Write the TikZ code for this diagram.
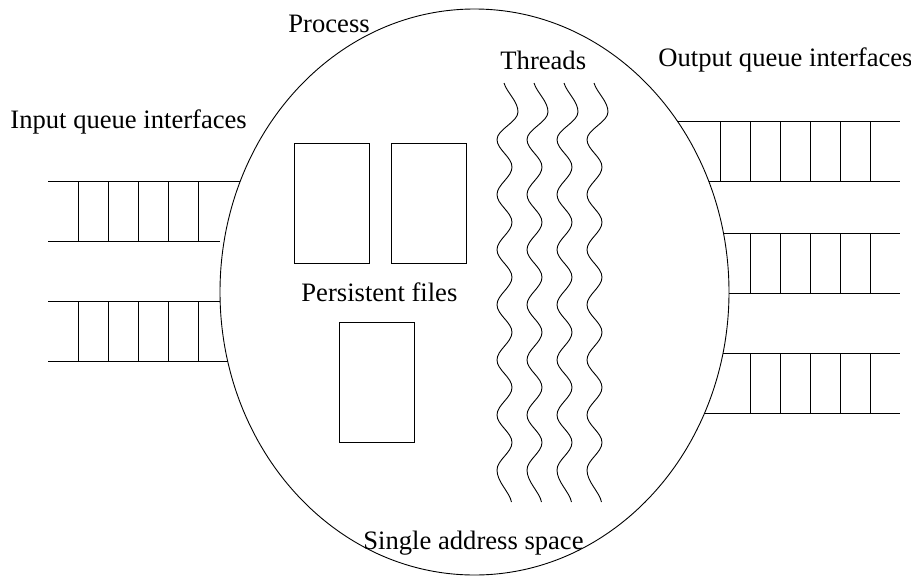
\documentclass[tikz,border=0pt]{standalone}
\usepackage{fontspec}
\setmainfont{Liberation Serif}
\usetikzlibrary{shapes.geometric}
\begin{document}
\begin{tikzpicture}[x=1pt,y=-1pt,line width=0.9pt,
  lbl/.style={inner sep=0pt,anchor=base west,font=\fontsize{26.6pt}{32pt}\selectfont},
  filebox/.style={draw,minimum width=75pt,minimum height=120pt,inner sep=0pt},
  procshape/.style={draw,ellipse,minimum width=509pt,minimum height=566pt,inner sep=0pt},
  qline/.style={line width=1pt},
  thread/.style={line width=0.9pt}]
\useasboundingbox (0,0) rectangle (911,576);
% process ellipse
\node[procshape] (proc) at (474.5,292) {};
% labels
\node[lbl] (lproc) at (288,32.5) {Process};
\node[lbl] (lthr) at (500,69) {Threads};
\node[lbl] (lout) at (658,66) {Output queue interfaces};
\node[lbl] (lin) at (10,128) {Input queue interfaces};
\node[lbl] (lpers) at (301,301) {Persistent files};
\node[lbl] (lsas) at (363,549) {Single address space};
% files
\node[filebox] (f1) at (331.8,203.3) {};
\node[filebox] (f2) at (429.2,203.3) {};
\node[filebox] (f3) at (376.8,382.7) {};
% input queues
\draw[qline] (48,181) -- (240.4,181);
\draw[qline] (48,241) -- (220,241);
\foreach \xx in {78,108,138,168,198} \draw[qline] (\xx,181) -- (\xx,241);
\draw[qline] (48,301) -- (220.1,301);
\draw[qline] (48,361) -- (227.7,361);
\foreach \xx in {78,108,138,168,198} \draw[qline] (\xx,301) -- (\xx,361);
% output queues
\draw[qline] (677.3,121) -- (900,121);
\draw[qline] (708.6,181) -- (900,181);
\foreach \xx in {720.5,750.5,780.5,810.5,840.5,870.5} \draw[qline] (\xx,121) -- (\xx,181);
\draw[qline] (723.4,233) -- (900,233);
\draw[qline] (729,293) -- (900,293);
\foreach \xx in {750.5,780.5,810.5,840.5,870.5} \draw[qline] (\xx,233) -- (\xx,293);
\draw[qline] (723,353) -- (900,353);
\draw[qline] (704.6,413) -- (900,413);
\foreach \xx in {750.5,780.5,810.5,840.5,870.5} \draw[qline] (\xx,353) -- (\xx,413);
% threads
\foreach \b in {504.5,534.5,564.5,594.5}{
\draw[thread,shift={(\b,0)}] (-0.5,83) .. controls +(3,10) and +(0,-11) .. (13.5,112)
 .. controls +(0,10) and +(0,-10) .. (-7.5,139.5)
 .. controls +(0,10) and +(0,-10) .. (7.5,167.1)
 .. controls +(0,10) and +(0,-10) .. (-7.5,194.6)
 .. controls +(0,10) and +(0,-10) .. (7.5,222.2)
 .. controls +(0,10) and +(0,-10) .. (-7.5,249.7)
 .. controls +(0,10) and +(0,-10) .. (7.5,277.2)
 .. controls +(0,10) and +(0,-10) .. (-7.5,304.8)
 .. controls +(0,10) and +(0,-10) .. (7.5,332.3)
 .. controls +(0,10) and +(0,-10) .. (-7.5,359.9)
 .. controls +(0,10) and +(0,-10) .. (7.5,387.4)
 .. controls +(0,10) and +(0,-10) .. (-7.5,414.9)
 .. controls +(0,10) and +(0,-10) .. (7.5,442.5)
 .. controls +(0,10) and +(0,-10) .. (-7.5,470)
 .. controls +(0,12) and +(-2,-10) .. (7,502);
}
\end{tikzpicture}
\end{document}
